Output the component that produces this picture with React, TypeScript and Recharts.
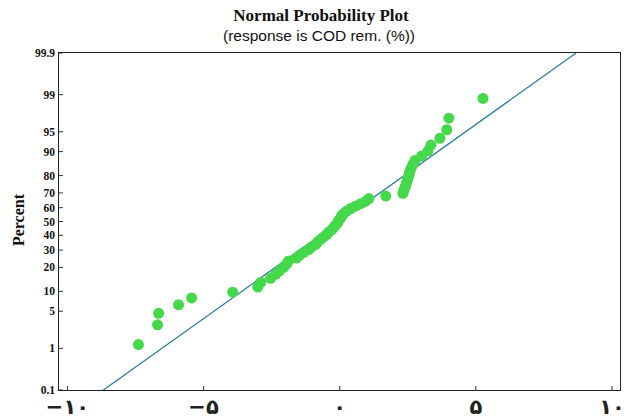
import { ScatterChart, Scatter, XAxis, YAxis } from 'recharts'

// residuals, with their plotted percent
const residuals = [
  -7.39, -6.69, -6.65, -5.92, -5.44, -3.93, -3.01, -2.9, -2.54, -2.35,
  -2.21, -2.06, -1.95, -1.88, -1.58, -1.47, -1.32, -1.14, -1.03, -0.88,
  -0.81, -0.7, -0.59, -0.48, -0.4, -0.29, -0.22, -0.15, -0.07, -0.04,
  0.04, 0.07, 0.15, 0.26, 0.4, 0.59, 0.77, 0.96, 1.07, 1.69,
  2.32, 2.35, 2.39, 2.43, 2.46, 2.5, 2.54, 2.57, 2.61, 2.68,
  2.76, 3.01, 3.24, 3.35, 3.68, 3.93, 4.01, 5.26,
]
const percents = [
  1.2, 2.91, 4.62, 6.34, 8.05, 9.76, 11.47, 13.18, 14.9, 16.61,
  18.32, 20.03, 21.75, 23.46, 25.17, 26.88, 28.6, 30.31, 32.02, 33.73,
  35.45, 37.16, 38.87, 40.58, 42.3, 44.01, 45.72, 47.43, 49.14, 50.86,
  52.57, 54.28, 55.99, 57.71, 59.42, 61.13, 62.84, 64.55, 66.27, 67.98,
  69.69, 71.4, 73.12, 74.83, 76.54, 78.25, 79.97, 81.68, 83.39, 85.1,
  86.82, 88.53, 90.24, 91.95, 93.66, 95.38, 97.09, 98.8,
]
const fitResiduals = [-8.68, 8.68]
const fitPercents = [0.1, 99.9]

const yTickPercents = [0.1, 1, 5, 10, 20, 30, 40, 50, 60, 70, 80, 90, 95, 99, 99.9]
const xTicks = [-10, -5, 0, 5, 10]
const xTickLabels = ['−۱۰', '−۵', '۰', '۵', '۱۰']

// inverse normal cdf (Acklam) -> probability paper scale
function probit(pct: number) {
  const p = pct / 100
  const a = [-39.69683028665376, 220.9460984245205, -275.9285104469687, 138.357751867269, -30.66479806614716, 2.506628277459239]
  const b = [-54.47609879822406, 161.5858368580409, -155.6989798598866, 66.80131188771972, -13.28068155288572]
  const c = [-0.007784894002430293, -0.3223964580411365, -2.400758277161838, -2.549732539343734, 4.374664141464968, 2.938163982698783]
  const d = [0.007784695709041462, 0.3224671290700398, 2.445134137142996, 3.754408661907416]
  const lo = 0.02425
  if (p < lo) {
    const q = Math.sqrt(-2 * Math.log(p))
    return (((((c[0] * q + c[1]) * q + c[2]) * q + c[3]) * q + c[4]) * q + c[5]) / ((((d[0] * q + d[1]) * q + d[2]) * q + d[3]) * q + 1)
  }
  if (p > 1 - lo) {
    const q = Math.sqrt(-2 * Math.log(1 - p))
    return -(((((c[0] * q + c[1]) * q + c[2]) * q + c[3]) * q + c[4]) * q + c[5]) / ((((d[0] * q + d[1]) * q + d[2]) * q + d[3]) * q + 1)
  }
  const q = p - 0.5
  const r = q * q
  return (((((a[0] * r + a[1]) * r + a[2]) * r + a[3]) * r + a[4]) * r + a[5]) * q / (((((b[0] * r + b[1]) * r + b[2]) * r + b[3]) * r + b[4]) * r + 1)
}

const points = residuals.map((x, i) => ({ x, z: probit(percents[i]) }))
const fitLine = fitResiduals.map((x, i) => ({ x, z: probit(fitPercents[i]) }))
const yTicks = yTickPercents.map(probit)
const zMin = probit(0.1)
const zMax = probit(99.9)

const labelFor = (z: number) => {
  const i = yTicks.findIndex((t) => Math.abs(t - z) < 1e-6)
  return i >= 0 ? String(yTickPercents[i]) : ''
}

const Dot = (props: any) => <circle cx={props.cx} cy={props.cy} r={5.5} fill="#44d84a" />
const NoDot = () => <g />

export default function App() {
  return (
    <div style={{ position: 'fixed', left: 0, top: 0, width: 632, height: 418, background: '#fff', overflow: 'hidden' }}>
      <div style={{ position: 'absolute', left: 10, width: 622, top: 6, textAlign: 'center', fontFamily: '"Liberation Serif", serif', fontWeight: 'bold', fontSize: 17, color: '#111' }}>
        Normal Probability Plot
      </div>
      <div style={{ position: 'absolute', left: 6, width: 626, top: 27, textAlign: 'center', fontFamily: '"Liberation Sans", Arial, sans-serif', fontSize: 15.5, color: '#111' }}>
        (response is COD rem. (%))
      </div>
      <div style={{ position: 'absolute', left: 19, top: 220, transform: 'translate(-50%, -50%) rotate(-90deg)', fontFamily: '"Liberation Serif", serif', fontWeight: 'bold', fontSize: 16, color: '#111', whiteSpace: 'nowrap' }}>
        Percent
      </div>
      <ScatterChart width={632} height={418} margin={{ top: 53, right: 11, bottom: 0, left: 0 }} style={{ position: 'absolute', left: 0, top: 0 }}>
        <XAxis
          type="number"
          dataKey="x"
          domain={[-10.31, 10.33]}
          allowDataOverflow
          ticks={xTicks}
          tickFormatter={(v: number) => xTickLabels[xTicks.indexOf(v)]}
          height={28}
          axisLine={false}
          tickLine={{ stroke: '#333' }}
          tickSize={-4}
          tickMargin={13}
          tick={{ fill: '#222', fontSize: 21, fontWeight: 'bold', fontFamily: '"DejaVu Sans", sans-serif' }}
        />
        <YAxis
          type="number"
          dataKey="z"
          domain={[zMin, zMax]}
          allowDataOverflow
          ticks={yTicks}
          interval={0}
          tickFormatter={labelFor}
          width={59}
          axisLine={false}
          tickLine={{ stroke: '#333' }}
          tickSize={-4}
          tickMargin={8}
          tick={{ fill: '#111', fontSize: 11.5, fontWeight: 'bold', fontFamily: '"Liberation Serif", serif' }}
        />
        <Scatter data={fitLine} line={{ stroke: '#2b7fa0', strokeWidth: 1.3 }} shape={NoDot} isAnimationActive={false} />
        <Scatter data={points} shape={Dot} isAnimationActive={false} />
      </ScatterChart>
      <div style={{ position: 'absolute', left: 58, top: 52, width: 561, height: 337, border: '1.5px solid #222', pointerEvents: 'none' }} />
    </div>
  )
}
